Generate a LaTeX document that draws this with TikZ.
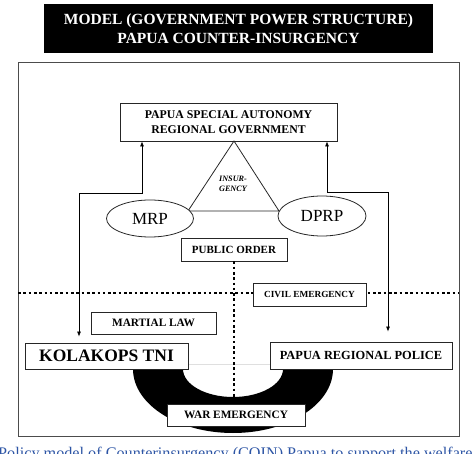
\documentclass[tikz,border=0pt]{standalone}
\usepackage{fontspec}
\setmainfont{Liberation Serif}
\usetikzlibrary{arrows.meta,shapes.geometric}
\definecolor{capblue}{RGB}{45,85,165}
\begin{document}
\begin{tikzpicture}[x=1pt,y=1pt,
  box/.style={draw=black!85,line width=0.8pt,fill=white,inner sep=0pt,font=\bfseries},
  oval/.style={draw=black!85,line width=0.8pt,fill=white,ellipse,inner sep=0pt},
  conn/.style={line width=0.7pt,{Latex[length=5pt,width=4pt]}-{Latex[length=5pt,width=4pt]}},
  dotline/.style={line width=2.6pt,dash pattern=on 2.6pt off 2.7pt}]
\useasboundingbox (0,0) rectangle (474,-454);
% title
\node[fill=black,minimum width=389pt,minimum height=49pt,inner sep=0pt,text=white,align=center,
  font=\bfseries\fontsize{15.5}{18.5}\selectfont] (title) at (238.5,-28.5)
  {MODEL (GOVERNMENT POWER STRUCTURE)\\PAPUA COUNTER-INSURGENCY};
% frame
\node[draw=black!70,line width=0.8pt,minimum width=441pt,minimum height=374pt,inner sep=0pt] (frame) at (238.5,-249) {};
% U shape
\fill[black,even odd rule] (133,-364) -- (133,-369) arc[start angle=180,end angle=360,x radius=100,y radius=64] -- (333,-364) -- cycle
  (183,-364) -- (183,-369) arc[start angle=180,end angle=360,x radius=50,y radius=28] -- (283,-364) -- cycle;
% dotted lines
\coordinate (hl) at (18,-293);
\coordinate (hr) at (459,-293);
\coordinate (vb) at (234,-397);
\draw[dotline] (hl) -- (hr);
% nodes
\node[box,minimum width=217pt,minimum height=38pt,align=center,font=\bfseries\fontsize{11.8}{14.5}\selectfont] (gov) at (228.5,-122)
  {PAPUA SPECIAL AUTONOMY\\REGIONAL GOVERNMENT};
\draw[line width=0.8pt,black!85] (234,-141) -- (188,-211) -- (279,-211) -- cycle;
\node[align=center,font=\bfseries\itshape\fontsize{8.2}{9.5}\selectfont] (insur) at (233,-184) {INSUR-\\GENCY};
\node[oval,minimum width=87pt,minimum height=37pt,font=\fontsize{17}{20}\selectfont] (mrp) at (150,-218.5) {MRP};
\node[oval,minimum width=88pt,minimum height=40pt,font=\fontsize{17}{20}\selectfont] (dprp) at (322,-216) {DPRP};
\node[box,minimum width=106pt,minimum height=23pt,font=\bfseries\fontsize{11}{13}\selectfont] (po) at (234,-249.5) {PUBLIC ORDER};
\draw[dotline] (po.south) -- (vb);
\node[box,minimum width=113pt,minimum height=23pt,font=\bfseries\fontsize{9.3}{11}\selectfont] (civ) at (309.5,-294.5) {CIVIL EMERGENCY};
\node[box,minimum width=125pt,minimum height=22pt,font=\bfseries\fontsize{11.3}{13}\selectfont] (mar) at (153.5,-323) {MARTIAL LAW};
\node[box,minimum width=163pt,minimum height=26pt,font=\bfseries\fontsize{17.5}{20}\selectfont] (kol) at (106.5,-356) {KOLAKOPS TNI};
\node[box,minimum width=182pt,minimum height=27pt,font=\bfseries\fontsize{12.4}{14}\selectfont] (pol) at (361,-355.5) {PAPUA REGIONAL POLICE};
\node[box,minimum width=138pt,minimum height=22pt,font=\bfseries\fontsize{11.3}{13}\selectfont] (war) at (236,-415) {WAR EMERGENCY};
% connectors
\coordinate (lj) at (142,-193);
\coordinate (lk) at (79,-193);
\coordinate (rj) at (327,-192);
\coordinate (rk) at (388,-192);
\draw[conn,shorten >=6pt] (gov.south -| lj) -- (lj) -- (lk) -- (kol.north -| lk);
\draw[conn,shorten >=10pt] (gov.south -| rj) -- (rj) -- (rk) -- (pol.north -| rk);
% caption
\node[anchor=base west,inner sep=0pt,text=capblue,font=\fontsize{16.2}{19}\selectfont] (cap) at (-2,-458)
  {Policy model of Counterinsurgency (COIN) Papua to support the welfare};
\end{tikzpicture}
\end{document}
